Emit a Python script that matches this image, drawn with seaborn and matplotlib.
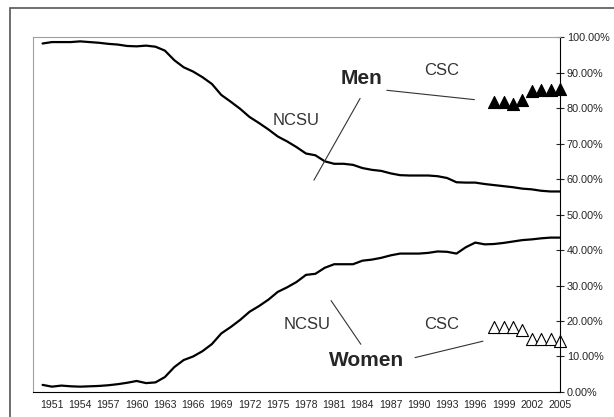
import matplotlib
matplotlib.use("Agg")
import matplotlib.pyplot as plt
from matplotlib.patches import Rectangle
from matplotlib.ticker import PercentFormatter
import seaborn as sns
import pandas as pd

# NCSU enrollment share by year (percent)
years = list(range(1950, 2006))
ncsu_men = [98.2, 98.6, 98.6, 98.6, 98.8, 98.6, 98.4, 98.1, 97.9, 97.5,
            97.4, 97.6, 97.3, 96.2, 93.5, 91.5, 90.3, 88.7, 86.8, 83.7,
            81.8, 79.8, 77.5, 75.8, 74.0, 72.0, 70.6, 69.0, 67.2, 66.7,
            65.0, 64.3, 64.3, 64.0, 63.1, 62.6, 62.3, 61.6, 61.1, 61.0,
            61.0, 61.0, 60.8, 60.3, 59.1, 59.0, 59.0, 58.6, 58.3, 58.0,
            57.7, 57.3, 57.1, 56.7, 56.5, 56.5]
ncsu_women = [2.0, 1.5, 1.8, 1.6, 1.5, 1.6, 1.7, 1.9, 2.2, 2.6,
              3.1, 2.5, 2.7, 4.2, 7.0, 9.0, 10.0, 11.5, 13.5, 16.5,
              18.3, 20.3, 22.6, 24.2, 26.0, 28.2, 29.5, 31.0, 33.0, 33.3,
              35.0, 36.0, 36.0, 36.0, 37.0, 37.3, 37.8, 38.5, 39.0, 39.0,
              39.0, 39.2, 39.6, 39.5, 39.0, 40.8, 42.1, 41.6, 41.7, 42.0,
              42.4, 42.8, 43.0, 43.3, 43.5, 43.5]

# CSC department share
csc_years = [1998, 1999, 2000, 2001, 2002, 2003, 2004, 2005]
csc_men = [81.8, 81.8, 81.2, 82.4, 84.9, 85.2, 85.2, 85.4]
csc_women = [18.2, 18.2, 18.3, 17.5, 15.0, 14.8, 14.8, 14.5]

tick_years = list(range(1951, 2006, 3))
y_ticks = list(range(0, 101, 10))

ncsu = pd.DataFrame({"year": years, "men": ncsu_men, "women": ncsu_women})
csc = pd.DataFrame({"year": csc_years, "men": csc_men, "women": csc_women})

sns.set_style("white")
plt.rcParams["font.family"] = ["Liberation Sans", "DejaVu Sans"]

fig = plt.figure(figsize=(6.14, 4.17), dpi=100)
ax = fig.add_axes([0.054, 0.060, 0.858, 0.851])

sns.lineplot(data=ncsu, x="year", y="men", ax=ax, color="black", lw=1.6)
sns.lineplot(data=ncsu, x="year", y="women", ax=ax, color="black", lw=1.6)
sns.scatterplot(data=csc, x="year", y="men", ax=ax, marker="^", s=75,
                color="black", edgecolor="black", linewidth=0.8, clip_on=False)
sns.scatterplot(data=csc, x="year", y="women", ax=ax, marker="^", s=75,
                facecolor="white", edgecolor="black", linewidth=0.8, clip_on=False)

ax.set_xlim(1949, 2005)
ax.set_ylim(0, 100)
ax.set_xlabel("")
ax.set_ylabel("")
ax.set_xticks(tick_years)
ax.set_xticklabels([str(y) for y in tick_years])
ax.set_yticks(y_ticks)
ax.yaxis.set_major_formatter(PercentFormatter(decimals=2))
ax.yaxis.tick_right()
ax.tick_params(axis="y", labelsize=7.8, direction="inout", length=6, width=0.8, pad=2)
ax.tick_params(axis="x", labelsize=7.6, direction="inout", length=6, width=0.8, pad=3)

for side in ["left", "top"]:
    ax.spines[side].set_color("#a0a0a0")
    ax.spines[side].set_linewidth(0.8)
for side in ["right", "bottom"]:
    ax.spines[side].set_color("black")
    ax.spines[side].set_linewidth(0.8)

# labels and connector lines
ax.text(1983.9, 88.4, "Men", fontsize=15, fontweight="bold", ha="center", va="center")
ax.text(1984.4, 9.0, "Women", fontsize=15, fontweight="bold", ha="center", va="center")
ax.text(1977.0, 76.6, "NCSU", fontsize=12, color="#333333", ha="center", va="center")
ax.text(1978.1, 18.9, "NCSU", fontsize=12, color="#333333", ha="center", va="center")
ax.text(1992.4, 90.7, "CSC", fontsize=12, color="#333333", ha="center", va="center")
ax.text(1992.4, 18.9, "CSC", fontsize=12, color="#333333", ha="center", va="center")

line_kw = dict(arrowprops=dict(arrowstyle="-", color="#333333", lw=0.8))
ax.annotate("", xy=(1978.7, 59.0), xytext=(1983.9, 83.4), **line_kw)
ax.annotate("", xy=(1996.2, 82.3), xytext=(1986.3, 85.1), **line_kw)
ax.annotate("", xy=(1984.0, 12.8), xytext=(1980.5, 26.4), **line_kw)
ax.annotate("", xy=(1997.1, 14.5), xytext=(1989.3, 9.5), **line_kw)

# outer chart border
fig.patches.append(Rectangle((10 / 614, -0.1), 1.2, 1.1 - 8 / 417,
                             transform=fig.transFigure, fill=False,
                             edgecolor="#555555", lw=1.2))

fig.savefig("out.png", dpi=100)
